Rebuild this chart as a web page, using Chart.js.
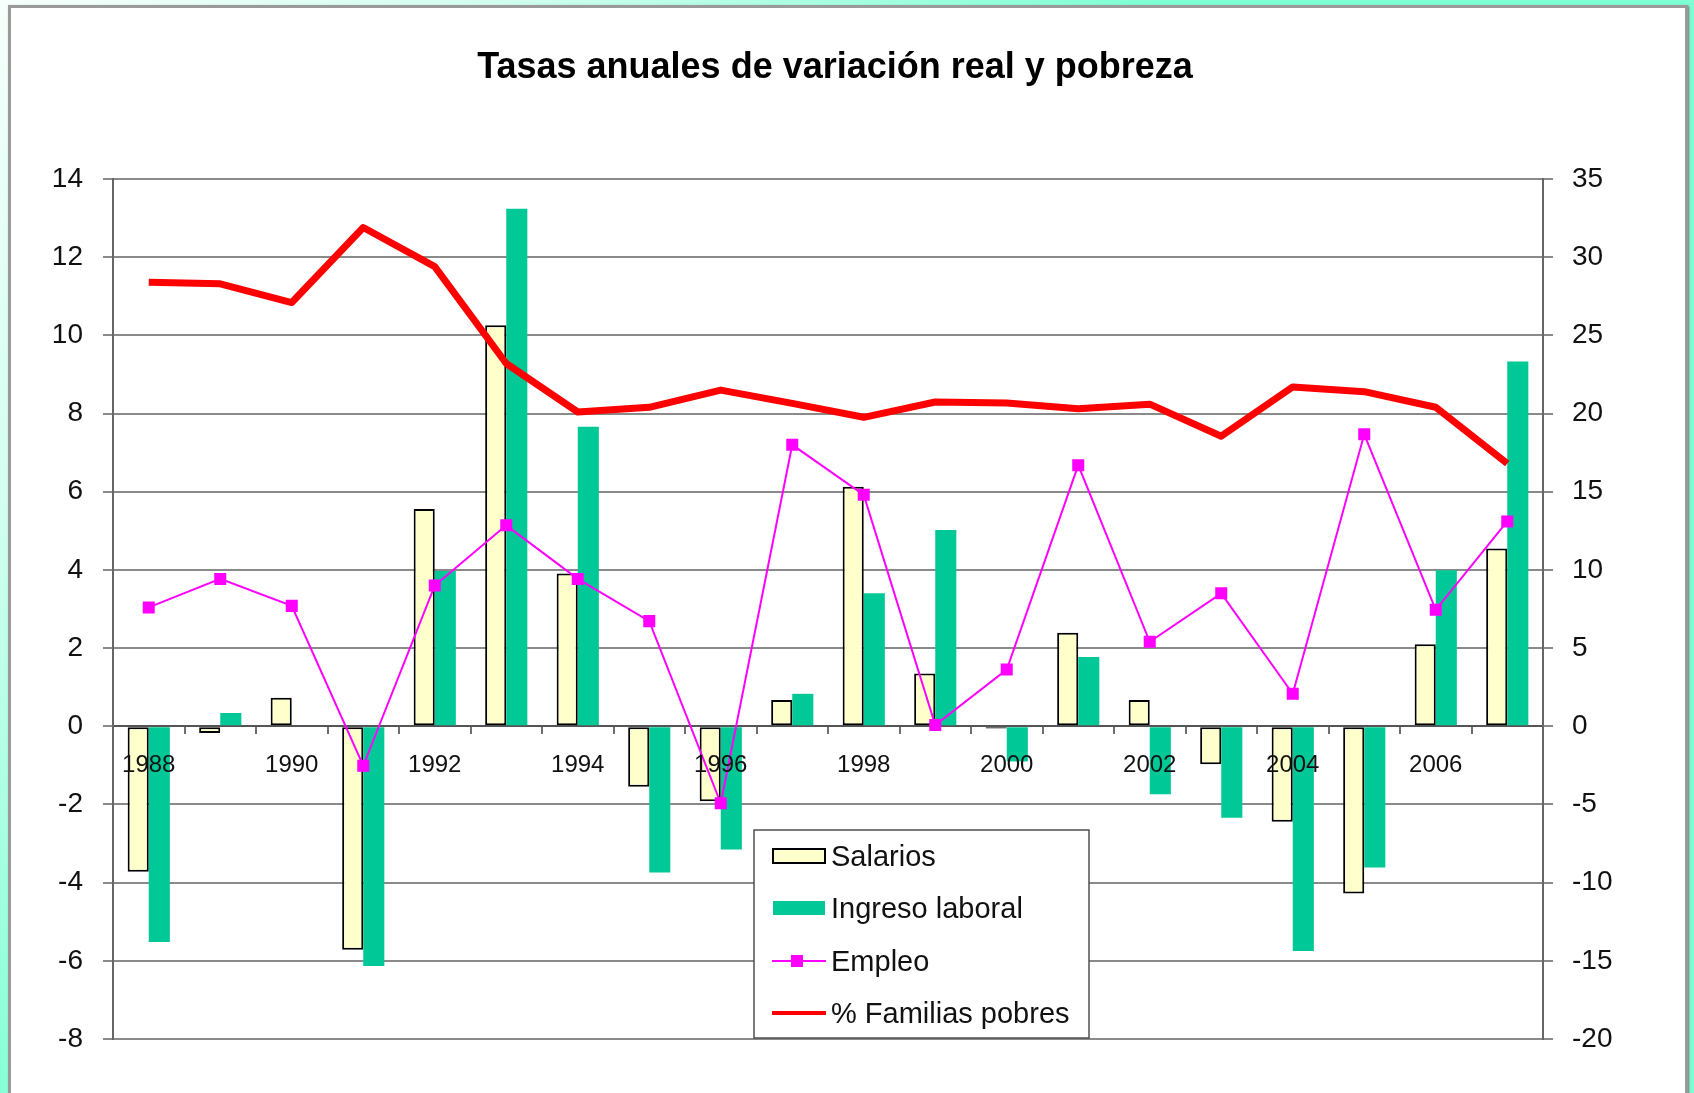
<!DOCTYPE html>
<html>
<head>
<meta charset="utf-8">
<script src="https://cdn.jsdelivr.net/npm/chart.js@4.4.1/dist/chart.umd.min.js"></script>
<style>
  html, body { margin: 0; padding: 0; width: 1694px; height: 1093px; overflow: hidden; }
  body {
    position: relative;
    background: radial-gradient(circle at 0 0, #f6fffb 0px, #d2fff0 500px, #7fffd4 1150px);
  }
  #panel {
    position: absolute; left: 8px; top: 5px; width: 1680px; height: 1130px;
    box-sizing: border-box; background: #fff;
    border: 3px solid #9a9a9a; box-shadow: 1px 1px 2px #777;
  }
  #grafico { position: absolute; left: 0; top: 0; }
</style>
</head>
<body>
<div id="panel"></div>
<canvas id="grafico" width="1694" height="1093"></canvas>
<script>
// datos
const titulo = "Tasas anuales de variación real y pobreza";
const anios = ["1988", "1989", "1990", "1991", "1992", "1993", "1994", "1995", "1996", "1997",
               "1998", "1999", "2000", "2001", "2002", "2003", "2004", "2005", "2006", "2007"];
const salarios = [-3.72, -0.17, 0.73, -5.72, 5.56, 10.26, 3.91, -1.55, -1.92, 0.67,
                  6.13, 1.35, -0.06, 2.39, 0.67, -0.97, -2.44, -4.28, 2.1, 4.55];
const ingresoLaboral = [-5.52, 0.34, 0, -6.13, 3.97, 13.24, 7.66, -3.74, -3.15, 0.83,
                        3.4, 5.02, -0.9, 1.77, -1.74, -2.34, -5.75, -3.61, 3.99, 9.33];
const empleo = [3.04, 3.77, 3.08, -1.01, 3.6, 5.14, 3.77, 2.69, -1.97, 7.2,
                5.92, 0.03, 1.45, 6.68, 2.16, 3.4, 0.83, 7.47, 2.98, 5.24];
const familiasPobres = [28.4, 28.3, 27.1, 31.9, 29.4, 23.2, 20.1, 20.4, 21.5, 20.65,
                        19.76, 20.74, 20.67, 20.3, 20.6, 18.55, 21.7, 21.4, 20.4, 16.8];
// ejes
const ejeIzq = { min: -8, max: 14, paso: 2 };
const ejeDer = { min: -20, max: 35, paso: 5 };

const fuente = '"Liberation Sans", Arial, sans-serif';

// 🔹 leyenda y título dibujados a mano (como en Excel)
const leyendaPlugin = {
    id: "leyenda",
    afterDraw(chart) {
        const ctx = chart.ctx;
        ctx.save();

        ctx.font = "bold 36px " + fuente;
        ctx.fillStyle = "#000";
        ctx.textAlign = "center";
        ctx.textBaseline = "alphabetic";
        ctx.fillText(titulo, 835, 78);

        const x0 = 754, y0 = 830, w = 335, h = 208;
        ctx.fillStyle = "#fff";
        ctx.fillRect(x0, y0, w, h);
        ctx.strokeStyle = "#505050";
        ctx.lineWidth = 1.5;
        ctx.strokeRect(x0, y0, w, h);

        const filas = [856, 908, 961, 1013];
        ctx.textAlign = "left";
        ctx.font = "29px " + fuente;
        chart.data.datasets.forEach((ds, i) => {
            const y = filas[i];
            if (ds.type === "bar") {
                ctx.fillStyle = ds.backgroundColor;
                ctx.fillRect(773, y - 7, 52, 14);
                if (ds.borderWidth) {
                    ctx.strokeStyle = ds.borderColor;
                    ctx.lineWidth = 2;
                    ctx.strokeRect(773, y - 7, 52, 14);
                }
            } else {
                ctx.strokeStyle = ds.borderColor;
                ctx.lineWidth = ds.borderWidth > 3 ? 4 : 2;
                ctx.beginPath();
                ctx.moveTo(772, y);
                ctx.lineTo(826, y);
                ctx.stroke();
                if (ds.pointRadius) {
                    ctx.fillStyle = ds.pointBackgroundColor;
                    ctx.fillRect(791, y - 6, 12, 12);
                }
            }
            ctx.fillStyle = "#111";
            ctx.fillText(ds.label, 831, y + 10);
        });
        ctx.restore();
    }
};

const ctx = document.getElementById("grafico").getContext("2d");

new Chart(ctx, {
    data: {
        labels: anios,
        datasets: [
            {
                type: "bar",
                label: "Salarios",
                data: salarios,
                backgroundColor: "#ffffcc",
                borderColor: "#000",
                borderWidth: 2,
                borderSkipped: false,
                yAxisID: "y",
                order: 2
            },
            {
                type: "bar",
                label: "Ingreso laboral",
                data: ingresoLaboral,
                backgroundColor: "#00c896",
                borderWidth: 0,
                yAxisID: "y",
                order: 3
            },
            {
                type: "line",
                label: "Empleo",
                data: empleo,
                borderColor: "#ff00ff",
                borderWidth: 2,
                pointStyle: "rect",
                pointRadius: 8.5,
                pointBackgroundColor: "#ff00ff",
                pointBorderWidth: 0,
                tension: 0,
                yAxisID: "y",
                order: 0
            },
            {
                type: "line",
                label: "% Familias pobres",
                data: familiasPobres,
                borderColor: "#ff0000",
                borderWidth: 7,
                pointRadius: 0,
                tension: 0,
                borderJoinStyle: "round",
                yAxisID: "y2",
                order: 1
            }
        ]
    },
    options: {
        responsive: false,
        animation: false,
        layout: { padding: { top: 179, bottom: 54, left: 0, right: 0 } },
        datasets: {
            bar: { barPercentage: 1.0, categoryPercentage: 0.59 }
        },
        plugins: {
            legend: { display: false },
            title: { display: false },
            tooltip: { enabled: false }
        },
        scales: {
            x: {
                type: "category",
                position: { y: 0 },
                offset: true,
                grid: {
                    offset: true,
                    drawOnChartArea: false,
                    drawTicks: true,
                    tickLength: 7,
                    color: "#707070",
                    lineWidth: 2
                },
                border: { display: true, color: "#555", width: 2 },
                ticks: {
                    z: 1, // etiquetas de años por encima de las barras
                    autoSkip: false,
                    maxRotation: 0,
                    padding: 18,
                    color: "#111",
                    font: { family: fuente, size: 24 },
                    callback: function (val, idx) {
                        return idx % 2 === 0 ? anios[idx] : "";
                    }
                }
            },
            y: {
                position: "left",
                min: ejeIzq.min,
                max: ejeIzq.max,
                afterFit(scale) { scale.width = 113; },
                ticks: {
                    stepSize: ejeIzq.paso,
                    padding: 20,
                    color: "#111",
                    font: { family: fuente, size: 28 }
                },
                grid: {
                    color: "#8a8a8a",
                    lineWidth: 2,
                    tickLength: 10
                },
                border: { display: true, color: "#666", width: 2 }
            },
            y2: {
                position: "right",
                min: ejeDer.min,
                max: ejeDer.max,
                afterFit(scale) { scale.width = 151; },
                ticks: {
                    stepSize: ejeDer.paso,
                    padding: 19,
                    color: "#111",
                    font: { family: fuente, size: 28 }
                },
                grid: {
                    drawOnChartArea: false,
                    color: "#8a8a8a",
                    lineWidth: 2,
                    tickLength: 10
                },
                border: { display: true, color: "#666", width: 2 }
            }
        }
    },
    plugins: [leyendaPlugin]
});
</script>
</body>
</html>
